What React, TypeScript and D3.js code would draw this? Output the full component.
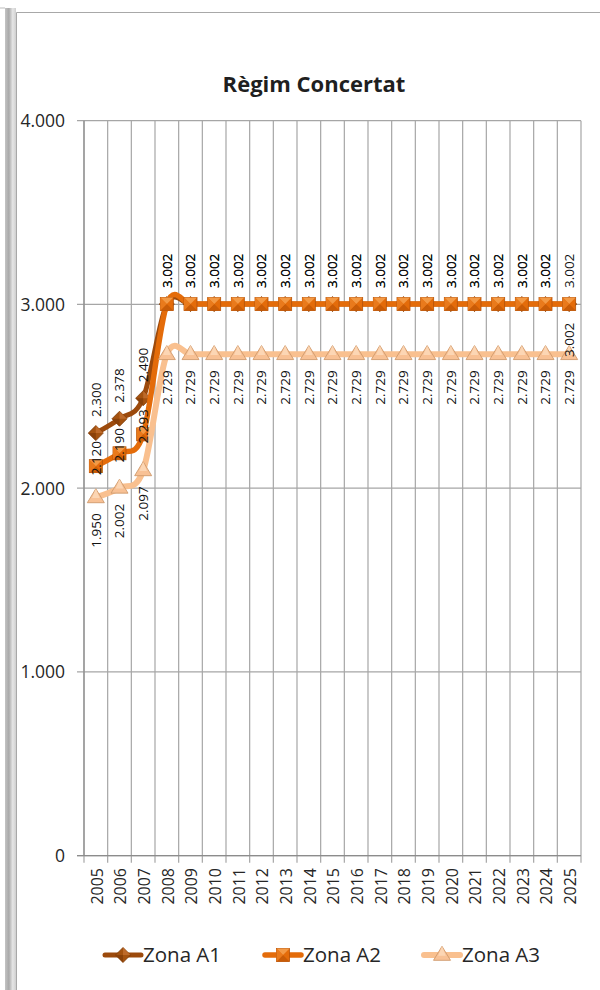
import * as d3 from 'd3';
import React, { useEffect } from 'react';

const years = d3.range(2005, 2026).map(String);
const zonaA1 = [2300, 2378, 2490, 3002, 3002, 3002, 3002, 3002, 3002, 3002, 3002, 3002, 3002, 3002, 3002, 3002, 3002, 3002, 3002, 3002, 3002];
const zonaA2 = [2120, 2190, 2293, 3002, 3002, 3002, 3002, 3002, 3002, 3002, 3002, 3002, 3002, 3002, 3002, 3002, 3002, 3002, 3002, 3002, 3002];
const zonaA3 = [1950, 2002, 2097, 2729, 2729, 2729, 2729, 2729, 2729, 2729, 2729, 2729, 2729, 2729, 2729, 2729, 2729, 2729, 2729, 2729, 2729];
const yTicks = [0, 1000, 2000, 3000, 4000];
const seriesNames = ['Zona A1', 'Zona A2', 'Zona A3'];

const W = 600;
const H = 990;
const FONT = "'Open Sans', 'Noto Sans', sans-serif";
const fmt = (v: number) => (v === 0 ? '0' : d3.format(',')(v).replace(',', '.'));

const colors = ['#9c4a0c', '#e46c0a', '#f9c08f'];
const widths = [5, 5.5, 6];

type Marker = 'diamond' | 'square' | 'triangle';
const markers: Marker[] = ['diamond', 'square', 'triangle'];

function MarkerShape({ kind, x, y }: { kind: Marker; x: number; y: number }) {
  if (kind === 'diamond') {
    const r = 7.5;
    return (
      <g transform={`translate(${x},${y})`}>
        <path d={`M0,${-r}L${r},0L0,${r}L${-r},0Z`} fill="#a4520f" stroke="#7b3805" strokeWidth={0.8} />
        <path d={`M0,${-r}L${r},0L0,0Z`} fill="#bd6a2a" />
        <path d={`M0,${r}L${-r},0L0,0Z`} fill="#8a4109" />
      </g>
    );
  }
  if (kind === 'square') {
    const s = 6.5;
    return (
      <g transform={`translate(${x},${y})`}>
        <rect x={-s} y={-s} width={2 * s} height={2 * s} fill="#e46c0a" stroke="#b2520a" strokeWidth={0.8} />
        <path d={`M${-s},${-s}L${s},${-s}L0,0Z`} fill="#f39a46" />
        <path d={`M${-s},${s}L${s},${s}L0,0Z`} fill="#c95c07" />
        <path d={`M${-s},${-s}L${-s},${s}L0,0Z`} fill="#e97a1c" />
      </g>
    );
  }
  const h = 14;
  const w = 8.5;
  return (
    <g transform={`translate(${x},${y})`}>
      <path d={`M0,${-h * 0.62}L${w},${h * 0.38}L${-w},${h * 0.38}Z`} fill="#f8c195" stroke="#cf9a6c" strokeWidth={0.9} />
      <path d={`M0,${-h * 0.62}L${w * 0.45},${h * 0.05}L${-w * 0.45},${h * 0.05}Z`} fill="#fcd6b4" />
    </g>
  );
}

export default function App() {
  useEffect(() => {
    document.body.style.margin = '0';
  }, []);

  const x = d3.scaleBand<string>().domain(years).range([84, 581]);
  const cx = (yr: string) => (x(yr) ?? 0) + x.bandwidth() / 2;
  const y = d3.scaleLinear().domain([0, 4000]).range([855.7, 120.7]);

  // Excel-style smoothing
  const line = d3
    .line<number>()
    .x((_, i) => cx(years[i]))
    .y((d) => y(d))
    .curve(d3.curveCardinal.tension(0));

  const data = [zonaA1, zonaA2, zonaA3];
  const gridX = [...years.map((yr) => x(yr) ?? 0), 581];

  // label placement: A1 above (last one dragged down), A2 centred for first years then above, A3 below
  const labelFor = (si: number, i: number) => {
    if (si === 0) return i === years.length - 1 ? { anchor: 'start', off: 53 } : { anchor: 'start', off: -16 };
    if (si === 1) return i < 3 ? { anchor: 'middle', off: -8 } : { anchor: 'start', off: -16 };
    return { anchor: 'end', off: 16 };
  };

  const legendX = [105, 265, 424];

  return (
    <svg width={W} height={H} style={{ display: 'block', fontFamily: FONT }}>
      <defs>
        <linearGradient id="strip" x1="0" x2="1" y1="0" y2="0">
          <stop offset="0" stopColor="#c4c4c4" />
          <stop offset="0.35" stopColor="#a9a9a9" />
          <stop offset="0.7" stopColor="#e6e6e6" />
          <stop offset="1" stopColor="#cfcfcf" />
        </linearGradient>
      </defs>
      <rect x={0} y={0} width={W} height={H} fill="#fff" />
      <rect x={5} y={8} width={11} height={H - 8} fill="url(#strip)" />
      <line x1={0} x2={5} y1={8} y2={8} stroke="#bdbdbd" />
      <path d={`M16.5,${H}V12.5H${W}`} fill="none" stroke="#a8a8a8" strokeWidth={1} />

      <text x={314} y={92} textAnchor="middle" fontSize={22} fontWeight="bold" fill="#1f1f1f">
        Règim Concertat
      </text>

      {/* gridlines */}
      {yTicks.map((t) => (
        <line key={t} x1={77} x2={581} y1={y(t)} y2={y(t)} stroke="#a6a6a6" strokeWidth={1.2} />
      ))}
      {gridX.map((gx, i) => (
        <line key={i} x1={gx} x2={gx} y1={y(4000)} y2={y(0) + 7} stroke="#a6a6a6" strokeWidth={1.2} />
      ))}
      <line x1={77} x2={581} y1={y(0)} y2={y(0)} stroke="#8c8c8c" strokeWidth={1.2} />
      <line x1={84} x2={84} y1={y(4000)} y2={y(0)} stroke="#8c8c8c" strokeWidth={1.2} />

      {yTicks.map((t) => (
        <text key={t} x={65} y={y(t)} dy="0.36em" textAnchor="end" fontSize={17.5} fill="#262626">
          {fmt(t)}
        </text>
      ))}
      {years.map((yr) => (
        <text
          key={yr}
          transform={`translate(${cx(yr) + 1},868) rotate(-90)`}
          dy="0.36em"
          textAnchor="end"
          fontSize={16}
          fill="#262626"
        >
          {yr}
        </text>
      ))}

      {data.map((vals, si) => (
        <g key={si}>
          <path d={line(vals) ?? ''} fill="none" stroke={colors[si]} strokeWidth={widths[si]} strokeLinecap="round" />
          {vals.map((v, i) => (
            <MarkerShape key={i} kind={markers[si]} x={cx(years[i])} y={y(v)} />
          ))}
        </g>
      ))}

      {data.map((vals, si) =>
        vals.map((v, i) => {
          const l = labelFor(si, i);
          return (
            <text
              key={`${si}-${i}`}
              transform={`translate(${cx(years[i])},${y(v) + l.off}) rotate(-90)`}
              dy="0.36em"
              textAnchor={l.anchor}
              fontSize={13.5}
              fill="#111"
            >
              {fmt(v)}
            </text>
          );
        }),
      )}

      {seriesNames.map((name, si) => (
        <g key={name} transform={`translate(${legendX[si]},955)`}>
          <line x1={0} x2={36} y1={0} y2={0} stroke={colors[si]} strokeWidth={widths[si]} strokeLinecap="round" />
          <MarkerShape kind={markers[si]} x={18} y={0} />
          <text x={38} y={0} dy="0.36em" fontSize={20.5} fill="#262626">
            {name}
          </text>
        </g>
      ))}
    </svg>
  );
}
